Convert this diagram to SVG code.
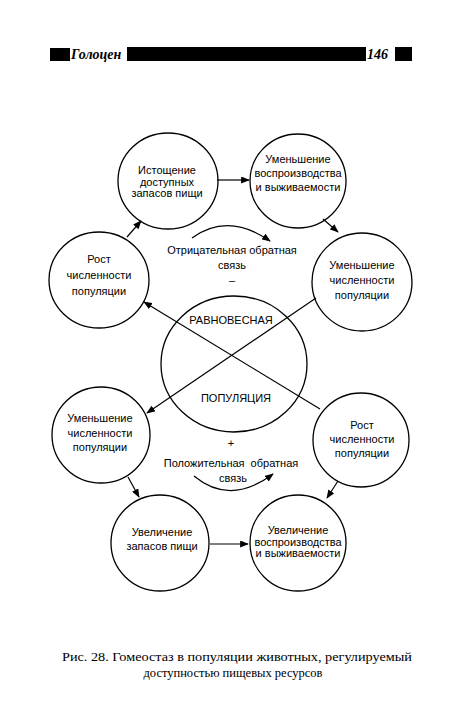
<svg xmlns="http://www.w3.org/2000/svg" width="450" height="707" viewBox="0 0 450 707">
<defs>
<style>
.n{fill:none;stroke:#000;stroke-width:1.3}
.t{font-family:"Liberation Sans",Arial,sans-serif;font-size:11px;fill:#000;text-anchor:middle}
.c{stroke:#000;stroke-width:1.2;fill:none}
.cap{font-family:"Liberation Serif","Times New Roman",serif;font-size:12.5px;fill:#000;text-anchor:middle}
</style>
<marker id="ah" viewBox="0 0 10 8" refX="9" refY="4" markerWidth="9" markerHeight="7" markerUnits="userSpaceOnUse" orient="auto">
<path d="M0,0 L10,4 L0,8 z" fill="#000"/>
</marker>
</defs>
<rect width="450" height="707" fill="#fff"/>
<g id="header">
<rect x="50" y="48" width="20" height="13" fill="#000"/>
<text x="71" y="59" font-family="Liberation Serif,serif" font-size="14" font-weight="bold" font-style="italic" fill="#000">Голоцен</text>
<rect x="127" y="47" width="239" height="14" fill="#000"/>
<text x="367" y="59" font-family="Liberation Serif,serif" font-size="14" font-weight="bold" font-style="italic" fill="#000">146</text>
<rect x="395" y="47" width="17" height="14" fill="#000"/>
</g>
<g id="connectors">
<line class="c" x1="217" y1="180" x2="249" y2="180" marker-end="url(#ah)"/>
<line class="c" x1="323" y1="219" x2="338" y2="232" marker-end="url(#ah)"/>
<line class="c" x1="127" y1="237" x2="141" y2="221" marker-end="url(#ah)"/>
<line class="c" x1="320" y1="409" x2="144" y2="302" marker-end="url(#ah)"/>
<line class="c" x1="316" y1="298" x2="147" y2="413" marker-end="url(#ah)"/>
<line class="c" x1="128" y1="477" x2="139" y2="497" marker-end="url(#ah)"/>
<line class="c" x1="338" y1="481" x2="327" y2="498" marker-end="url(#ah)"/>
<line class="c" x1="210" y1="544" x2="248" y2="544" marker-end="url(#ah)"/>
<path class="c" d="M192,238 Q228,212 270,241" marker-end="url(#ah)"/>
<path class="c" d="M194,476 Q230,506 273,474" marker-end="url(#ah)"/>
</g>
<g id="n1">
<ellipse class="n" cx="168" cy="181" rx="50" ry="48"/>
<text class="t" x="167" y="174">Истощение</text>
<text class="t" x="167" y="185.5">доступных</text>
<text class="t" x="167" y="197">запасов пищи</text>
</g>
<g id="n2">
<ellipse class="n" cx="298" cy="181" rx="48" ry="47"/>
<text class="t" x="298" y="163">Уменьшение</text>
<text class="t" x="298" y="177">воспроизводства</text>
<text class="t" x="298" y="191">и выживаемости</text>
</g>
<g id="n3">
<ellipse class="n" cx="99" cy="280" rx="50" ry="48"/>
<text class="t" x="99" y="263">Рост</text>
<text class="t" x="99" y="279">численности</text>
<text class="t" x="99" y="295">популяции</text>
</g>
<g id="n4">
<ellipse class="n" cx="362" cy="282" rx="50" ry="49"/>
<text class="t" x="362" y="269">Уменьшение</text>
<text class="t" x="362" y="284">численности</text>
<text class="t" x="362" y="299">популяции</text>
</g>
<g id="center">
<ellipse class="n" cx="234" cy="364" rx="73" ry="68"/>
<text class="t" x="231" y="324">РАВНОВЕСНАЯ</text>
<text class="t" x="236" y="402">ПОПУЛЯЦИЯ</text>
</g>
<g id="neg">
<text class="t" x="232" y="254">Отрицательная обратная</text>
<text class="t" x="232" y="269">связь</text>
<text class="t" x="232" y="284">–</text>
</g>
<g id="n5">
<ellipse class="n" cx="101" cy="435" rx="49" ry="48"/>
<text class="t" x="100" y="422">Уменьшение</text>
<text class="t" x="100" y="437">численности</text>
<text class="t" x="100" y="451">популяции</text>
</g>
<g id="n6">
<ellipse class="n" cx="361" cy="440" rx="48" ry="47"/>
<text class="t" x="362" y="429">Рост</text>
<text class="t" x="362" y="443">численности</text>
<text class="t" x="362" y="457">популяции</text>
</g>
<g id="pos">
<text class="t" x="231" y="447">+</text>
<text class="t" x="231" y="467" word-spacing="3">Положительная обратная</text>
<text class="t" x="233" y="482">связь</text>
</g>
<g id="n7">
<ellipse class="n" cx="160" cy="543" rx="49" ry="48"/>
<text class="t" x="162" y="536">Увеличение</text>
<text class="t" x="162" y="550">запасов пищи</text>
</g>
<g id="n8">
<ellipse class="n" cx="298" cy="543" rx="48" ry="48"/>
<text class="t" x="298" y="534">Увеличение</text>
<text class="t" x="298" y="545.5">воспроизводства</text>
<text class="t" x="298" y="557">и выживаемости</text>
</g>
<g id="caption">
<text class="cap" x="237" y="661" textLength="350" lengthAdjust="spacingAndGlyphs">Рис. 28. Гомеостаз в популяции животных, регулируемый</text>
<text class="cap" x="233" y="677">доступностью пищевых ресурсов</text>
</g>
</svg>
